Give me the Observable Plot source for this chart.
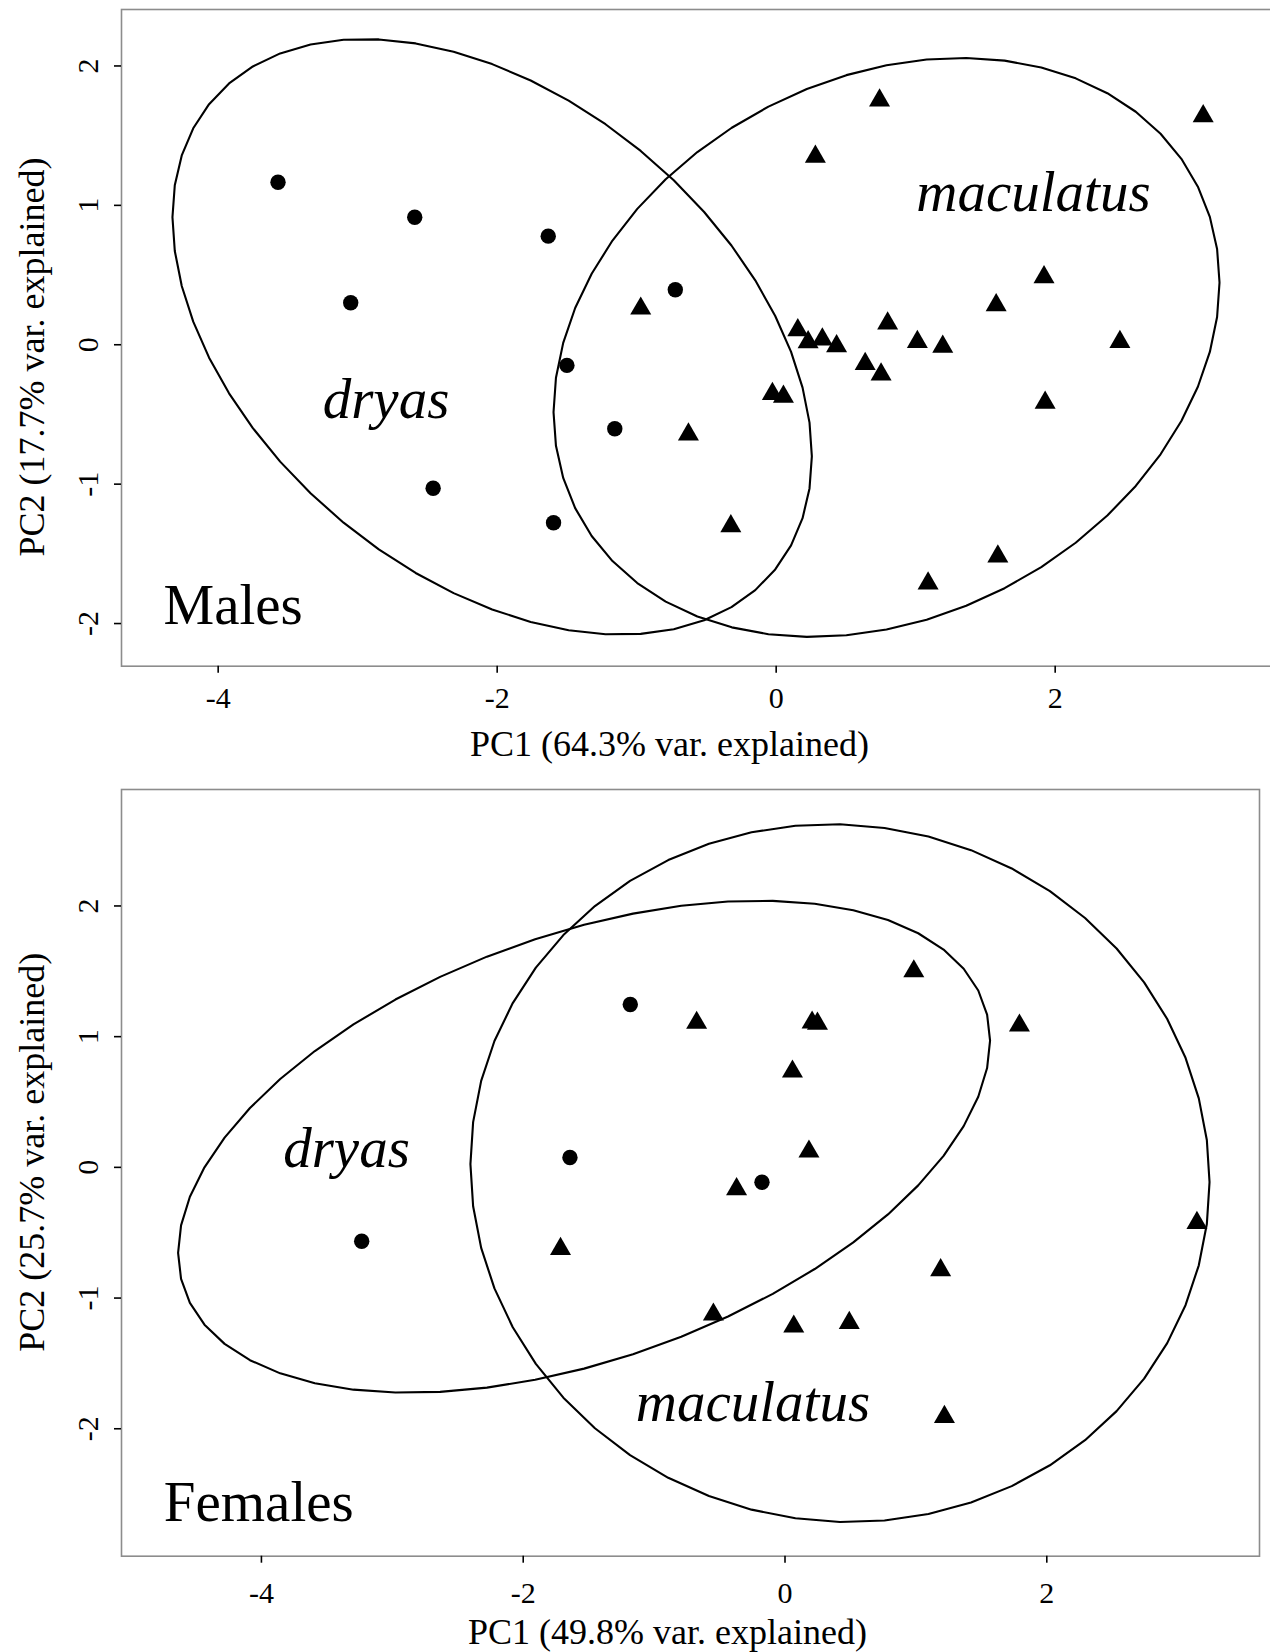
<!DOCTYPE html>
<html>
<head>
<meta charset="utf-8">
<script src="https://cdn.jsdelivr.net/npm/d3@7"></script>
<script src="https://cdn.jsdelivr.net/npm/@observablehq/plot@0.6"></script>
<style>
html, body { margin: 0; padding: 0; background: #fff; overflow: hidden; }
#chart svg { display: block; }
</style>
</head>
<body>
<div id="chart"></div>
<script>
// ---------- Data ----------
const xTicks = [-4, -2, 0, 2];
const yTicks = [-2, -1, 0, 1, 2];

// Males
const maleDryasX = [-3.571, -2.591, -1.634, -3.050, -1.500, -0.723, -1.157, -2.459, -1.596];
const maleDryasY = [1.166, 0.915, 0.779, 0.301, -0.148, 0.395, -0.603, -1.029, -1.277];
const maleMacX = [0.741, 3.061, 0.281, 1.920, 1.577, 0.799, -0.971, 0.155, 0.229, 0.331, 0.433, 1.012,
                  1.194, 2.464, 0.638, 0.752, -0.027, 0.052, 1.928, -0.629, -0.325, 1.589, 1.089];
const maleMacY = [1.753, 1.640, 1.349, 0.485, 0.284, 0.153, 0.260, 0.105, 0.019, 0.038, -0.010, 0.021,
                  -0.014, 0.021, -0.137, -0.213, -0.352, -0.373, -0.416, -0.643, -1.301, -1.519, -1.712];

// Females
const femaleDryasX = [-1.182, -1.643, -3.234, -0.176];
const femaleDryasY = [1.246, 0.075, -0.565, -0.114];
const femaleMacX = [-1.715, -0.675, 0.207, 0.248, 0.984, 1.791, 0.057, 0.183, -0.370, 3.147, -0.547, 0.067, 0.491, 1.189, 1.218];
const femaleMacY = [-0.624, 1.106, 1.108, 1.100, 1.500, 1.085, 0.733, 0.121, -0.167, -0.425, -1.126, -1.218, -1.190, -0.787, -1.909];

// Ellipse parameters per species: [centerX, centerY, varX, varY, covXY]
const species = ["dryas", "maculatus"];
const maleEllipses = [[-2.036, 0.057, 5.252, 4.563, -1.966], [0.791, -0.019, 5.698, 4.313, 1.111]];
const femaleEllipses = [[-1.535, 0.158, 9.62, 3.543, 2.52], [0.420, -0.044, 7.971, 7.127, -0.194]];

// Species label positions (label centre x, baseline y)
const maleLabelX = [-2.797, 1.844];
const maleLabelY = [-0.529, 0.963];
const femaleLabelX = [-3.350, -0.245];
const femaleLabelY = [0.000, -1.937];

const panelNames = ["Males", "Females"];
const panelNameX = [-4.392, -4.746];
const panelNameY = [-2.006, -2.702];

const xTitles = ["PC1 (64.3% var. explained)", "PC1 (49.8% var. explained)"];
const yTitles = ["PC2 (17.7% var. explained)", "PC2 (25.7% var. explained)"];

// ---------- helpers ----------
function ellipsePoints(params, name, segments = 52) {
  const [cx, cy, sxx, syy, sxy] = params;
  const l11 = Math.sqrt(sxx);
  const l21 = sxy / l11;
  const l22 = Math.sqrt(syy - l21 * l21);
  const pts = [];
  for (let i = 0; i <= segments; i++) {
    const t = (2 * Math.PI * i) / segments;
    pts.push({g: name, x: cx + l11 * Math.cos(t), y: cy + l21 * Math.cos(t) + l22 * Math.sin(t)});
  }
  return pts;
}
const zip = (xs, ys) => xs.map((x, i) => ({x, y: ys[i]}));

const serif = "'Liberation Serif', 'Times New Roman', Times, serif";

function panel(cfg) {
  const ell = cfg.ellipses.flatMap((p, i) => ellipsePoints(p, species[i]));
  const labels = species.map((s, i) => ({text: s, x: cfg.labelX[i], y: cfg.labelY[i]}));
  return Plot.plot({
    width: 1270,
    height: cfg.height,
    marginLeft: cfg.margins[3],
    marginRight: cfg.margins[1],
    marginTop: cfg.margins[0],
    marginBottom: cfg.margins[2],
    style: {fontFamily: serif, fontSize: "30px", background: "white", color: "black"},
    x: {domain: cfg.xDomain, ticks: xTicks},
    y: {domain: cfg.yDomain, ticks: yTicks},
    marks: [
      Plot.frame({stroke: "#8c8c8c", strokeWidth: 1.6}),
      Plot.axisX({ticks: xTicks, tickSize: 7, tickPadding: cfg.xPad, tickFormat: d => String(d),
                  fontSize: 30, label: null, strokeWidth: 1.6}),
      Plot.axisY({ticks: yTicks, tickSize: 7, tickPadding: 17, tickRotate: -90, tickFormat: d => String(d),
                  fontSize: 30, label: null, strokeWidth: 1.6}),
      Plot.line(ell, {x: "x", y: "y", z: "g", stroke: "black", strokeWidth: 2.1}),
      Plot.dot(cfg.dryas, {x: "x", y: "y", symbol: "circle", r: 7.7, fill: "black"}),
      Plot.dot(cfg.mac, {x: "x", y: "y", symbol: "triangle", r: 7.8, fill: "black"}),
      Plot.text(labels, {x: "x", y: "y", text: "text", fontStyle: "italic", fontSize: 57,
                         textAnchor: "middle", lineAnchor: "bottom"}),
      Plot.text([cfg.name], {x: () => cfg.nameX, y: () => cfg.nameY, text: d => d, fontSize: 57,
                             textAnchor: "start", lineAnchor: "bottom"}),
      Plot.text([cfg.xTitle], {frameAnchor: "bottom", text: d => d, fontSize: 36, textAnchor: "middle",
                               lineAnchor: "bottom", dx: cfg.xTitleD[0], dy: cfg.xTitleD[1]}),
      Plot.text([cfg.yTitle], {frameAnchor: "left", text: d => d, fontSize: 36, rotate: -90, textAnchor: "middle",
                               lineAnchor: "bottom", dx: cfg.yTitleD[0], dy: cfg.yTitleD[1]})
    ]
  });
}

const malesPanel = panel({
  height: 775,
  margins: [9, -3, 109.3, 121],
  xDomain: [-4.693, 3.565],
  yDomain: [-2.306, 2.405],
  xPad: 13,
  dryas: zip(maleDryasX, maleDryasY),
  mac: zip(maleMacX, maleMacY),
  ellipses: maleEllipses,
  labelX: maleLabelX, labelY: maleLabelY,
  name: panelNames[0], nameX: panelNameX[0], nameY: panelNameY[0],
  xTitle: xTitles[0], yTitle: yTitles[0],
  xTitleD: [-28, 89.3], yTitleD: [-78, 19.2]
});

const femalesPanel = panel({
  height: 877,
  margins: [14, 11, 96.3, 121],
  xDomain: [-5.069, 3.625],
  yDomain: [-2.975, 2.891],
  xPad: 18,
  dryas: zip(femaleDryasX, femaleDryasY),
  mac: zip(femaleMacX, femaleMacY),
  ellipses: femaleEllipses,
  labelX: femaleLabelX, labelY: femaleLabelY,
  name: panelNames[1], nameX: panelNameX[1], nameY: panelNameY[1],
  xTitle: xTitles[1], yTitle: yTitles[1],
  xTitleD: [-23, 87.3], yTitleD: [-78, -20.6]
});

const root = document.getElementById("chart");
root.appendChild(malesPanel);
root.appendChild(femalesPanel);
</script>
</body>
</html>
